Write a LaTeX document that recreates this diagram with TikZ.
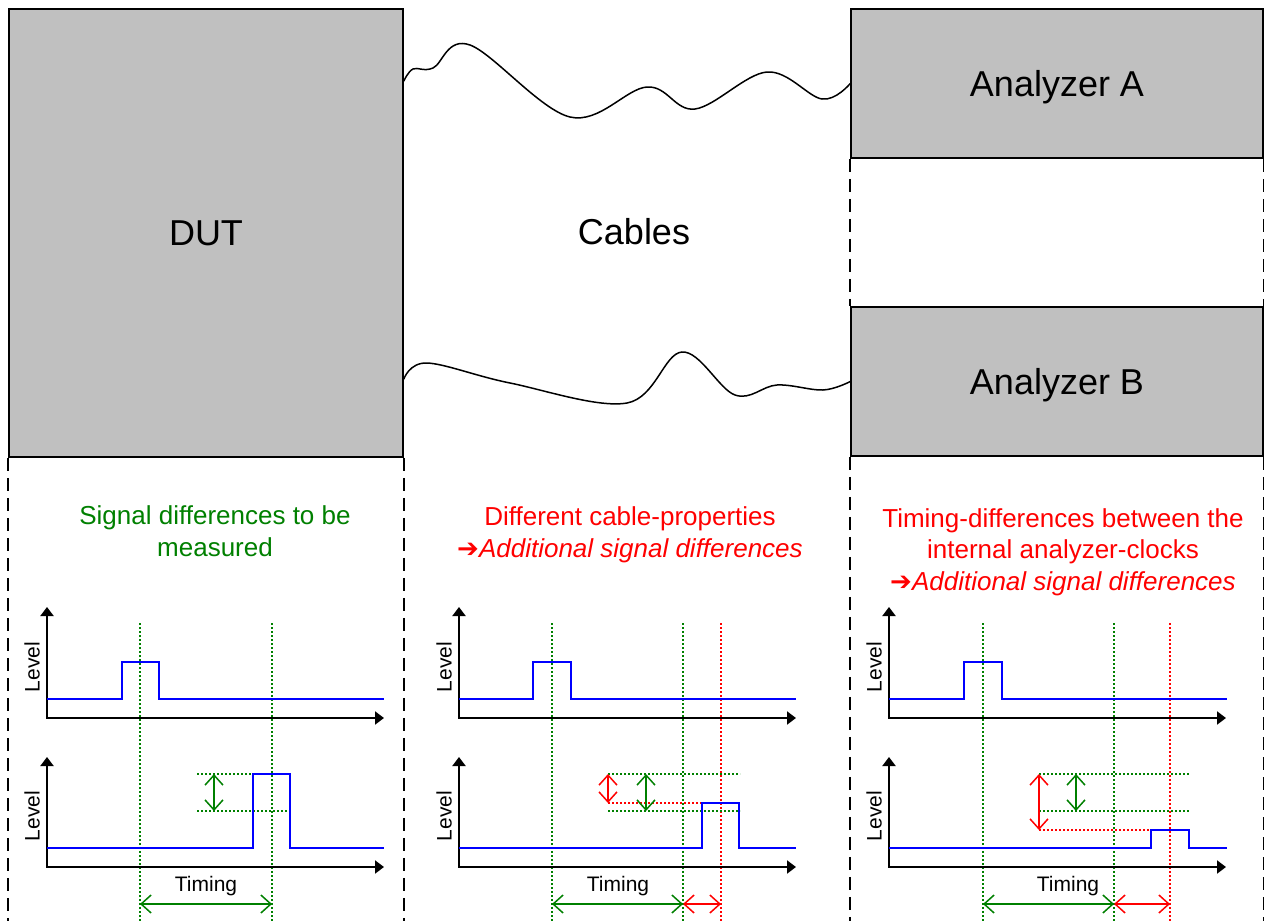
\documentclass[tikz,border=0pt]{standalone}
\usepackage{fontspec}
\setmainfont{Liberation Sans}
\newfontfamily\djv{DejaVu Sans}
\usetikzlibrary{arrows.meta,calc}
\definecolor{boxgray}{HTML}{C0C0C0}
\definecolor{dgreen}{HTML}{008000}
\definecolor{sred}{HTML}{FF0000}
\definecolor{sblue}{HTML}{0000FF}
\begin{document}
\begin{tikzpicture}[x=1pt,y=-1pt,
  box/.style={draw=black,line width=1.5pt,fill=boxgray,inner sep=0pt,text depth=0pt,
    font=\fontsize{36}{40}\selectfont},
  bigtext/.style={font=\fontsize{36}{40}\selectfont},
  outer/.style={draw=black,line width=1.6pt,dash pattern=on 13pt off 7pt},
  axis/.style={draw=black,line width=2pt,{Triangle[length=9pt,width=13pt]}-{Triangle[length=9pt,width=13pt]}},
  sig/.style={draw=sblue,line width=2pt},
  gdot/.style={draw=dgreen,line width=1.3pt,dash pattern=on 2pt off 2pt},
  rdot/.style={draw=sred,line width=1.3pt,dash pattern=on 2pt off 2pt},
  gdim/.style={draw=dgreen,line width=1.5pt,{Straight Barb[length=10pt,width=18pt]}-{Straight Barb[length=10pt,width=18pt]}},
  rdim/.style={draw=sred,line width=1.5pt,{Straight Barb[length=10pt,width=18pt]}-{Straight Barb[length=10pt,width=18pt]}},
  lvl/.style={rotate=90,font=\fontsize{21}{24}\selectfont},
  tim/.style={font=\fontsize{21}{24}\selectfont},
  title/.style={align=center,font=\fontsize{26}{31.5}\selectfont},
  cable/.style={draw=black,line width=1.5pt}
]
\useasboundingbox (0,0) rectangle (1264,921);
\fill[white] (0,0) rectangle (1264,921);

% boxes
\node[box,minimum width=394pt,minimum height=448pt] (dut) at (206,233) {DUT};
\node[box,minimum width=412pt,minimum height=149pt] (anaA) at (1057,83.5) {Analyzer A};
\node[box,minimum width=412pt,minimum height=149pt] (anaB) at (1057,381.5) {Analyzer B};
\node[bigtext] (cab) at (634,232) {Cables};

% dashed separators
\draw[outer] (dut.south west) -- (dut.south west |- 0,921);
\draw[outer] (dut.south east) -- (dut.south east |- 0,921);
\draw[outer] (anaA.south west) -- (anaB.north west);
\draw[outer] (anaA.south east) -- (anaB.north east);
\draw[outer] (anaB.south west) -- (anaB.south west |- 0,921);
\draw[outer] (anaB.south east) -- (anaB.south east |- 0,921);

% cables
\coordinate (ct) at ($(dut.north east)+(0,73)$);
\coordinate (cb) at ($(dut.north east)+(0,371)$);
\draw[cable] plot[smooth,tension=0.6] coordinates {(ct) (413,69) (433,68) (470,45) (570,117) (647,87) (695,109) (767,72) (822,99) (anaA.west)};
\draw[cable] plot[smooth,tension=0.6] coordinates {(cb) (427,363) (510,383) (627,403) (682,352) (735,395) (777,385) (823,390) (anaB.west)};

% titles
\node[title,text=dgreen] (t1) at (215,531) {Signal differences to be\\measured};
\node[title,text=sred] (t2) at (630,535) {Different cable-properties\\{\djv\char"2794}{\itshape Additional signal differences}};
\node[title,text=sred] (t3) at (1063,552) {Timing-differences between the\\internal analyzer-clocks\\{\djv\char"2794}{\itshape Additional signal differences}};

% ===== Panel 1 =====
\draw[gdot] (140,623) -- (140,921);
\draw[gdot] (272,623) -- (272,921);
\draw[gdot] (197,774) -- (290,774);
\draw[gdot] (197,811) -- (290,811);
\draw[axis] (47,607) -- (47,718) -- (384,718);
\draw[sig] (47,699) -- (122,699) -- (122,662) -- (159,662) -- (159,699) -- (384,699);
\draw[axis] (47,757) -- (47,867) -- (384,867);
\draw[sig] (47,848) -- (253,848) -- (253,774) -- (290,774) -- (290,848) -- (384,848);
\draw[gdim] (214,774) -- (214,811);
\draw[gdim] (140,904) -- (272,904);
\node[lvl] (l1a) at (32,667) {Level};
\node[lvl] (l1b) at (32,816) {Level};
\node[tim] (tm1) at (206,886) {Timing};

% ===== Panel 2 =====
\draw[gdot] (552,623) -- (552,921);
\draw[gdot] (683,623) -- (683,921);
\draw[rdot] (721,623) -- (721,921);
\draw[gdot] (608,774) -- (740,774);
\draw[gdot] (608,811) -- (740,811);
\draw[rdot] (608,803) -- (739,803);
\draw[axis] (459,607) -- (459,718) -- (796,718);
\draw[sig] (459,699) -- (533,699) -- (533,662) -- (571,662) -- (571,699) -- (796,699);
\draw[axis] (459,757) -- (459,867) -- (796,867);
\draw[sig] (459,848) -- (702,848) -- (702,803) -- (739,803) -- (739,848) -- (796,848);
\draw[rdim] (608,774) -- (608,803);
\draw[gdim] (646,774) -- (646,811);
\draw[gdim] (552,904) -- (683,904);
\draw[rdim] (683,904) -- (721,904);
\node[lvl] (l2a) at (444,667) {Level};
\node[lvl] (l2b) at (444,816) {Level};
\node[tim] (tm2) at (618,886) {Timing};

% ===== Panel 3 =====
\draw[gdot] (983,623) -- (983,921);
\draw[gdot] (1114,623) -- (1114,921);
\draw[rdot] (1170,623) -- (1170,921);
\draw[gdot] (1039,774) -- (1189,774);
\draw[gdot] (1039,811) -- (1189,811);
\draw[rdot] (1039,830) -- (1189,830);
\draw[axis] (889,607) -- (889,718) -- (1226,718);
\draw[sig] (889,699) -- (964,699) -- (964,662) -- (1002,662) -- (1002,699) -- (1227,699);
\draw[axis] (889,757) -- (889,867) -- (1226,867);
\draw[sig] (889,848) -- (1151,848) -- (1151,830) -- (1189,830) -- (1189,848) -- (1227,848);
\draw[rdim] (1039,774) -- (1039,830);
\draw[gdim] (1076,774) -- (1076,811);
\draw[gdim] (983,904) -- (1114,904);
\draw[rdim] (1114,904) -- (1170,904);
\node[lvl] (l3a) at (874,667) {Level};
\node[lvl] (l3b) at (874,816) {Level};
\node[tim] (tm3) at (1068,886) {Timing};
\end{tikzpicture}
\end{document}
